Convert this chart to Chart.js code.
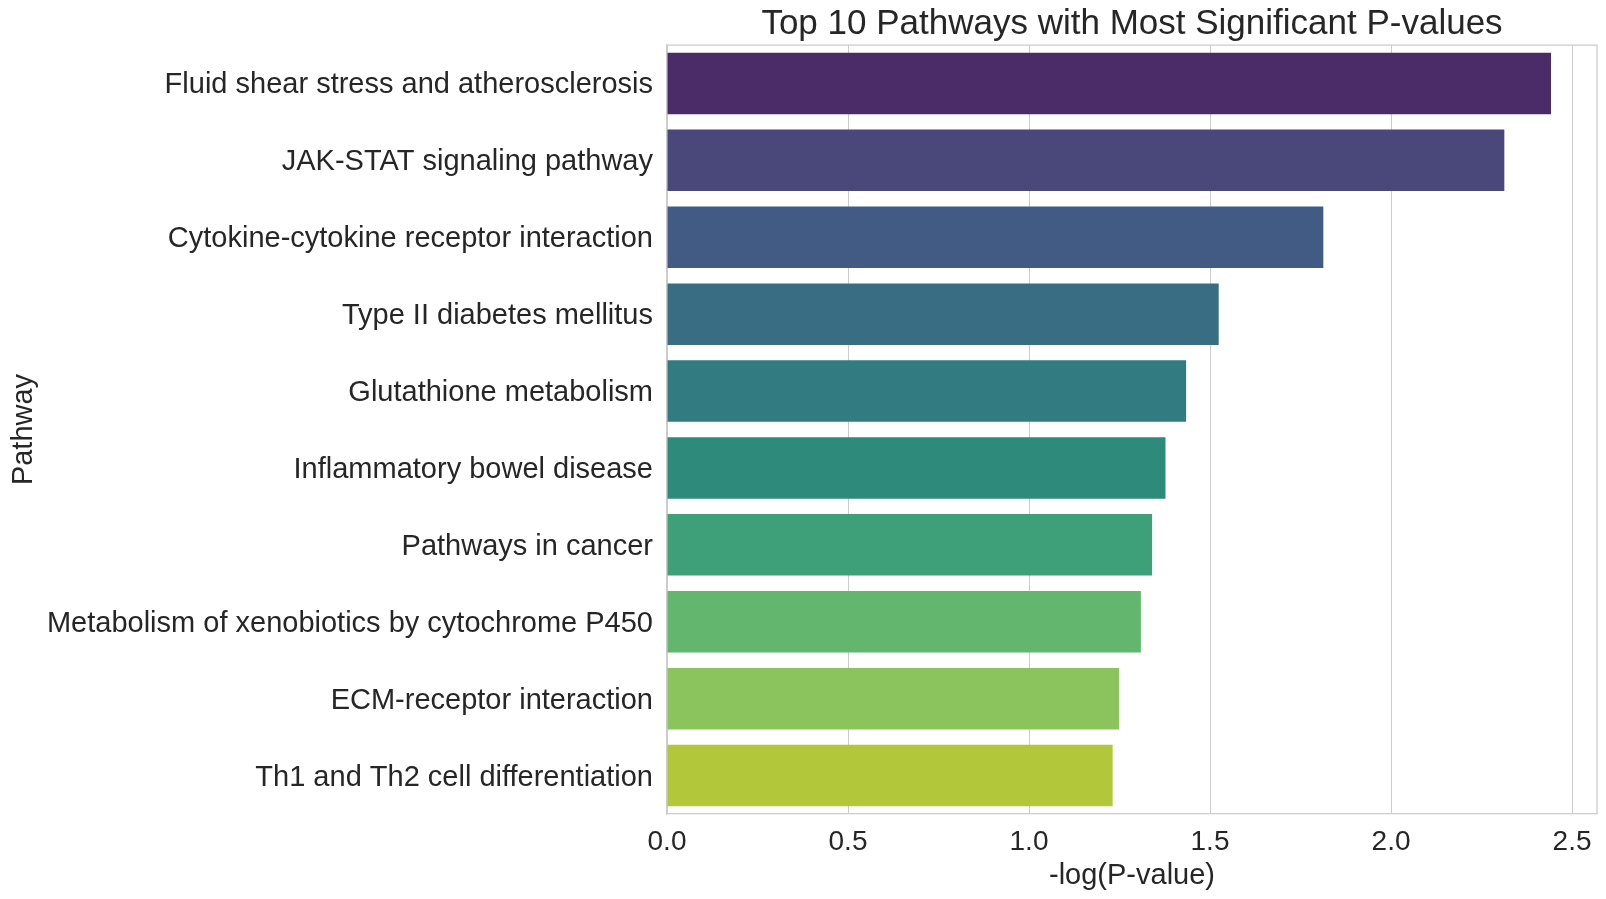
<!DOCTYPE html>
<html>
<head>
<meta charset="utf-8">
<title>Top 10 Pathways</title>
<script src="https://cdn.jsdelivr.net/npm/chart.js@4"></script>
<style>
  html, body { margin: 0; padding: 0; background: #fff; }
  #wrap { width: 1606px; height: 899px; }
</style>
</head>
<body>
<div id="wrap"><canvas id="pathwayChart" width="1606" height="899"></canvas></div>
<script>
// data
const pathways = [
  'Fluid shear stress and atherosclerosis',
  'JAK-STAT signaling pathway',
  'Cytokine-cytokine receptor interaction',
  'Type II diabetes mellitus',
  'Glutathione metabolism',
  'Inflammatory bowel disease',
  'Pathways in cancer',
  'Metabolism of xenobiotics by cytochrome P450',
  'ECM-receptor interaction',
  'Th1 and Th2 cell differentiation'
];
const negLogP = [2.442, 2.313, 1.813, 1.524, 1.434, 1.377, 1.340, 1.309, 1.249, 1.231];
const xTicks = [0.0, 0.5, 1.0, 1.5, 2.0, 2.5];

// viridis, toned down a bit like seaborn does
const barColors = [
  '#4b2c69', '#4a477b', '#425b85', '#396d83', '#327b80',
  '#2e8b7c', '#3da078', '#62b66d', '#8bc45c', '#b2c83a'
];

const FONT = "'Liberation Sans', Arial, sans-serif";
const INK = '#262626';
const GRID = '#cccccc';

document.addEventListener('DOMContentLoaded', function () {

  // top + right spines (seaborn whitegrid keeps all four)
  const frame = {
    id: 'frame',
    afterDatasetsDraw(chart) {
      const a = chart.chartArea;
      const ctx = chart.ctx;
      ctx.save();
      ctx.strokeStyle = GRID;
      ctx.lineWidth = 1.25;
      ctx.beginPath();
      ctx.moveTo(a.left, a.top);
      ctx.lineTo(a.right, a.top);
      ctx.lineTo(a.right, a.bottom);
      ctx.stroke();
      ctx.restore();
    }
  };

  new Chart(document.getElementById('pathwayChart').getContext('2d'), {
    type: 'bar',
    data: {
      labels: pathways,
      datasets: [{
        data: negLogP,
        backgroundColor: barColors,
        borderWidth: 0,
        barPercentage: 0.8,
        categoryPercentage: 1.0
      }]
    },
    options: {
      indexAxis: 'y',
      responsive: false,
      animation: false,
      devicePixelRatio: 1,
      layout: { padding: { left: 0, right: 9, top: 0, bottom: 0 } },
      plugins: {
        legend: { display: false },
        tooltip: { enabled: false },
        title: {
          display: true,
          fullSize: false,
          text: 'Top 10 Pathways with Most Significant P-values',
          color: INK,
          font: { family: FONT, size: 35, weight: 'normal' },
          padding: { top: 3, bottom: 0 }
        }
      },
      scales: {
        x: {
          min: 0,
          max: 2.569,
          afterBuildTicks(scale) {
            scale.ticks = xTicks.map(v => ({ value: v }));
          },
          afterFit(scale) { scale.height = 85; },
          grid: { color: GRID, lineWidth: 1, drawTicks: false },
          border: { color: GRID, width: 1.25 },
          ticks: {
            color: INK,
            padding: 11,
            font: { family: FONT, size: 28 },
            callback: v => Number(v).toFixed(1)
          },
          title: {
            display: true,
            text: '-log(P-value)',
            color: INK,
            font: { family: FONT, size: 29 },
            padding: { top: 0, bottom: 6 }
          }
        },
        y: {
          afterFit(scale) { scale.width = 667; },
          grid: { display: false, drawTicks: false },
          border: { color: GRID, width: 1.25 },
          ticks: {
            color: INK,
            padding: 14,
            labelOffset: 2,
            font: { family: FONT, size: 29 }
          },
          title: {
            display: true,
            text: 'Pathway',
            color: INK,
            font: { family: FONT, size: 29 },
            padding: { top: 7, bottom: 0 }
          }
        }
      }
    },
    plugins: [frame]
  });

});
</script>
</body>
</html>
